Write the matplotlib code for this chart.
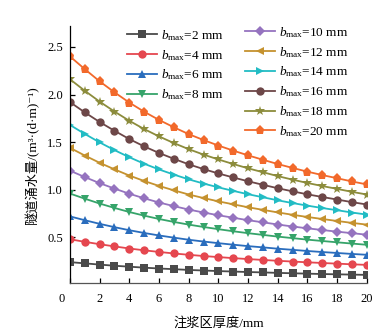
import matplotlib
matplotlib.use("Agg")
import matplotlib.pyplot as plt
import matplotlib.transforms as mtransforms

plt.rcParams['font.family'] = ['Liberation Serif', 'Noto Sans CJK SC', 'DejaVu Sans']
plt.rcParams['mathtext.fontset'] = 'custom'
plt.rcParams['mathtext.rm'] = 'Liberation Serif'
plt.rcParams['mathtext.it'] = 'Liberation Serif:italic'

# grouting zone thickness (mm)
thickness = list(range(0, 21))

# tunnel inflow per metre for each maximum joint aperture b_max
q_b2 = [0.240, 0.227, 0.214, 0.202, 0.192, 0.182, 0.173, 0.166, 0.158, 0.152, 0.146,
        0.141, 0.136, 0.132, 0.127, 0.123, 0.119, 0.115, 0.112, 0.109, 0.106]
q_b4 = [0.480, 0.453, 0.428, 0.405, 0.383, 0.364, 0.347, 0.331, 0.317, 0.304, 0.293,
        0.282, 0.272, 0.263, 0.254, 0.246, 0.238, 0.231, 0.224, 0.217, 0.211]
q_b6 = [0.720, 0.680, 0.642, 0.607, 0.575, 0.546, 0.520, 0.497, 0.475, 0.456, 0.439,
        0.423, 0.408, 0.395, 0.381, 0.369, 0.357, 0.346, 0.336, 0.326, 0.317]
q_b8 = [0.960, 0.906, 0.855, 0.809, 0.766, 0.728, 0.693, 0.662, 0.634, 0.609, 0.586,
        0.564, 0.544, 0.526, 0.508, 0.492, 0.476, 0.462, 0.448, 0.435, 0.422]
q_b10 = [1.200, 1.133, 1.069, 1.012, 0.958, 0.910, 0.866, 0.828, 0.792, 0.761, 0.732,
         0.706, 0.680, 0.658, 0.635, 0.614, 0.595, 0.577, 0.560, 0.544, 0.528]
q_b12 = [1.440, 1.359, 1.283, 1.214, 1.149, 1.092, 1.040, 0.994, 0.950, 0.913, 0.878,
         0.847, 0.816, 0.789, 0.762, 0.737, 0.714, 0.693, 0.672, 0.652, 0.634]
q_b14 = [1.680, 1.586, 1.497, 1.416, 1.341, 1.273, 1.213, 1.159, 1.109, 1.065, 1.025,
         0.988, 0.953, 0.921, 0.889, 0.860, 0.833, 0.808, 0.785, 0.761, 0.739]
q_b16 = [1.920, 1.812, 1.711, 1.619, 1.532, 1.455, 1.386, 1.325, 1.267, 1.217, 1.171,
         1.129, 1.089, 1.052, 1.016, 0.983, 0.952, 0.924, 0.897, 0.870, 0.845]
q_b18 = [2.160, 2.039, 1.925, 1.821, 1.724, 1.637, 1.560, 1.490, 1.426, 1.369, 1.318,
         1.270, 1.225, 1.184, 1.143, 1.106, 1.071, 1.039, 1.009, 0.978, 0.950]
q_b20 = [2.400, 2.266, 2.138, 2.023, 1.915, 1.819, 1.733, 1.656, 1.584, 1.522, 1.464,
         1.411, 1.361, 1.315, 1.270, 1.229, 1.190, 1.154, 1.121, 1.087, 1.056]

b_max = [2, 4, 6, 8, 10, 12, 14, 16, 18, 20]
series = [q_b2, q_b4, q_b6, q_b8, q_b10, q_b12, q_b14, q_b16, q_b18, q_b20]
colors = ['#4a4a4a', '#e5474f', '#2a6dbd', '#36a46a', '#9573bf',
          '#c5922f', '#22bcc4', '#6d4748', '#8c8c3c', '#f2692b']
markers = ['s', 'o', '^', 'v', 'D', '<', '>', 'o', '*', 'p']
msizes = [5.2, 6.0, 6.0, 6.0, 5.0, 6.0, 6.0, 6.0, 7.0, 6.5]

x_ticks = [0, 2, 4, 6, 8, 10, 12, 14, 16, 18, 20]
y_ticks = [0.5, 1.0, 1.5, 2.0, 2.5]

fig = plt.figure(figsize=(3.82, 3.35), dpi=100)
ax = fig.add_axes([0.1832, 0.155, 0.7768, 0.7676])

handles = []
for b, q, c, m, ms in zip(b_max, series, colors, markers, msizes):
    h, = ax.plot(thickness, q, color=c, marker=m, markersize=ms, linewidth=1.3,
                 markeredgewidth=0, label=r'$b_{\mathrm{max}}$=%d mm' % b)
    handles.append(h)

ax.set_xlim(0, 20)
ax.set_ylim(0.02, 2.72)
ax.set_xticks(x_ticks)
ax.set_yticks(y_ticks)
ax.set_yticklabels(['0.5', '1.0', '1.5', '2.0', '2.5'])
ax.tick_params(direction='in', length=3.5, width=0.9, labelsize=9)
ax.tick_params(axis='y', pad=5)
ax.tick_params(axis='x', pad=7)
for side in ('top', 'right'):
    ax.spines[side].set_visible(False)
ax.spines['left'].set_linewidth(0.9)
ax.spines['bottom'].set_linewidth(0.9)
ax.spines['bottom'].set_color('#555555')

# nudge the origin label off the vertical axis
lbl0 = ax.get_xticklabels()[0]
lbl0.set_transform(lbl0.get_transform() +
                   mtransforms.ScaledTranslation(-8 / 100, 0, fig.dpi_scale_trans))

ax.set_xlabel('注浆区厚度/mm', fontsize=9.5, labelpad=9)
ax.set_ylabel('隧道涌水量/(m³·(d·m)⁻¹)', fontsize=9.5, labelpad=6)

leg_kw = dict(loc='upper left', frameon=False, fontsize=9.5, handlelength=2.3,
              handletextpad=0.3, labelspacing=0.38, borderpad=0, borderaxespad=0)
leg1 = fig.legend(handles=handles[:4], bbox_to_anchor=(127 / 382, 1 - 28 / 335), **leg_kw)
leg2 = fig.legend(handles=handles[4:], bbox_to_anchor=(245 / 382, 1 - 25 / 335), **leg_kw)

fig.savefig('out.png', dpi=100)
